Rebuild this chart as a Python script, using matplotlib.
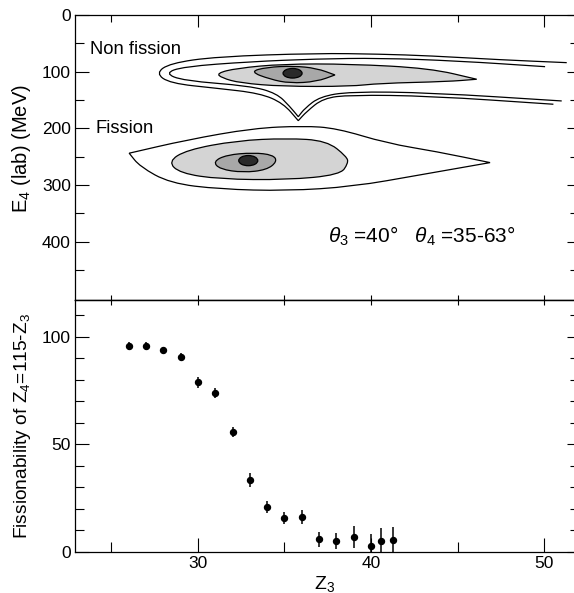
import numpy as np
import matplotlib
matplotlib.use("Agg")
import matplotlib.pyplot as plt
from matplotlib.path import Path
from matplotlib.patches import PathPatch, Ellipse
from matplotlib.ticker import MultipleLocator, FixedLocator

plt.rcParams["font.family"] = ["Liberation Sans", "DejaVu Sans"]
plt.rcParams["mathtext.fontset"] = "custom"
plt.rcParams["mathtext.rm"] = "Liberation Sans"
plt.rcParams["mathtext.it"] = "Liberation Sans:italic"

# ---- bottom panel: fissionability vs Z3 ----
z3 = [26, 27, 28, 29, 30, 31, 32, 33, 34, 35, 36, 37, 38, 39, 40, 40.6, 41.25]
fiss = [95.8, 95.8, 93.8, 90.9, 78.9, 73.8, 55.8, 33.5, 20.9, 15.7, 16.4,
        6.0, 5.0, 7.0, 2.8, 5.0, 5.4]
fiss_err = [1.7, 1.7, 1.3, 1.6, 2.5, 2.3, 2.4, 3.4, 2.9, 2.8, 3.3,
            3.5, 3.7, 5.2, 5.4, 6.2, 6.0]

# ---- top panel: contour outlines (Z3, E4) ----
# non fission, two open outer lines
nf_outer_z = [51.31, 47.46, 43.41, 40.52, 36.86, 31.08, 28.38, 27.57, 28.38,
              31.08, 33.58, 34.93, 35.80, 35.80, 36.28, 37.24, 38.79, 43.41, 50.54]
nf_outer_e = [84.1, 79.0, 72.0, 69.0, 67.5, 73.5, 85.2, 102.8, 120.5,
              129.3, 138.1, 155.7, 186.5, 186.5, 170.5, 146.9, 141.1, 142.9, 157.5]
nf_inner_z = [50.06, 45.0, 40.52, 36.86, 33.01, 29.15, 28.09, 29.15, 33.01,
              34.55, 35.32, 35.80, 35.80, 36.18, 37.05, 38.79, 43.41, 51.02]
nf_inner_e = [91.2, 81.0, 76.0, 77.5, 82.4, 91.2, 102.8, 115.9, 125.2,
              138.1, 161.7, 179.5, 179.5, 164.6, 144.1, 135.3, 137.0, 151.7]
# non fission, shaded levels
nf_light_z = [31.08, 32.24, 34.91, 38.79, 43.41, 46.11, 46.11, 44.38, 40.52,
              38.79, 34.91, 32.43, 31.39]
nf_light_e = [102.8, 94.0, 86.4, 86.4, 94.0, 113.4, 113.4, 117.6, 120.5,
              126.1, 126.1, 119.9, 111.1]
nf_mid_z = [33.01, 33.97, 35.51, 36.86, 37.92, 37.92, 36.86, 35.32, 34.17]
nf_mid_e = [100.0, 92.2, 89.9, 94.0, 105.8, 105.8, 117.6, 120.5, 113.4]
nf_core = (35.47, 102.8, 1.1, 17.0)

# fission
f_outer_z = [26.03, 26.03, 29.35, 33.20, 36.09, 38.02, 40.91, 43.80, 46.88,
             46.88, 42.83, 38.98, 35.13, 31.27, 28.38, 26.65]
f_outer_e = [243.9, 243.9, 220.5, 199.8, 195.8, 199.8, 226.3, 241.1, 260.5,
             260.5, 282.2, 302.8, 310.4, 307.4, 296.8, 267.5]
f_light_z = [28.28, 29.35, 32.24, 35.13, 37.44, 38.60, 38.69, 38.21, 35.13,
             31.27, 28.96]
f_light_e = [258.7, 238.1, 221.7, 217.5, 221.7, 249.9, 261.6, 282.2, 291.0,
             289.8, 279.2]
f_mid_z = [30.88, 31.66, 33.20, 34.35, 34.58, 33.97, 32.62, 31.27]
f_mid_e = [258.7, 246.9, 242.9, 246.9, 258.7, 273.4, 278.1, 272.1]
f_core = (32.91, 257.0, 1.1, 18.0)

e_ticks = [0, 100, 200, 300, 400]
e_minor = [50, 150, 250, 350, 450]


def smooth_path(zs, es, closed=True):
    # quadratic b-spline through midpoints, vertices act as control points
    pts = np.column_stack([zs, es])
    if closed:
        mids = (pts + np.roll(pts, -1, axis=0)) / 2
        verts = [mids[-1]]
        codes = [Path.MOVETO]
        for i in range(len(pts)):
            verts += [pts[i], mids[i]]
            codes += [Path.CURVE3, Path.CURVE3]
    else:
        mids = (pts[:-1] + pts[1:]) / 2
        verts = [pts[0], mids[0]]
        codes = [Path.MOVETO, Path.LINETO]
        for i in range(1, len(pts) - 1):
            verts += [pts[i], mids[i]]
            codes += [Path.CURVE3, Path.CURVE3]
        verts.append(pts[-1])
        codes.append(Path.LINETO)
    return Path(verts, codes)


W, H, DPI = 574, 593, 100
fig = plt.figure(figsize=(W / DPI, H / DPI), dpi=DPI)

x0 = 75 / W
ax1 = fig.add_axes([x0, (H - 300) / H, 1 - x0, 285 / H])
ax2 = fig.add_axes([x0, (H - 552) / H, 1 - x0, 252 / H])

XLIM = (22.9, 51.73)
LW = 0.9
TICK_FS = 12.5

# ---------- top panel ----------
ax1.set_xlim(*XLIM)
ax1.set_ylim(503, 0)

light = "#d4d4d4"
mid = "#a8a8a8"
dark = "#2a2a2a"

for zs, es in [(nf_outer_z, nf_outer_e), (nf_inner_z, nf_inner_e)]:
    ax1.add_patch(PathPatch(smooth_path(zs, es, closed=False), fc="none",
                            ec="black", lw=LW))

ax1.add_patch(PathPatch(smooth_path(f_outer_z, f_outer_e), fc="none", ec="black", lw=LW))
for zs, es, c in [(nf_light_z, nf_light_e, light), (nf_mid_z, nf_mid_e, mid),
                  (f_light_z, f_light_e, light), (f_mid_z, f_mid_e, mid)]:
    ax1.add_patch(PathPatch(smooth_path(zs, es), fc=c, ec="black", lw=LW))
for cz, ce, w, h in [nf_core, f_core]:
    ax1.add_patch(Ellipse((cz, ce), w, h, fc=dark, ec="black", lw=LW))

ax1.text(23.75, 61, "Non fission", fontsize=13.2, va="center", ha="left")
ax1.text(24.1, 201, "Fission", fontsize=13.2, va="center", ha="left")
ax1.text(37.5, 391, r"$\theta_3$ =40°   $\theta_4$ =35-63°", fontsize=15,
         va="center", ha="left")

ax1.yaxis.set_major_locator(FixedLocator(e_ticks))
ax1.yaxis.set_minor_locator(FixedLocator(e_minor))
ax1.set_ylabel(r"E$_4$ (lab) (MeV)", fontsize=14.5)
ax1.yaxis.set_label_coords(-0.085, 0.53)

# ---------- bottom panel ----------
ax2.set_xlim(*XLIM)
ax2.set_ylim(0, 117.2)
ax2.errorbar(z3, fiss, yerr=fiss_err, fmt="o", color="black", ms=4.3,
             elinewidth=1.1, capsize=0)
ax2.yaxis.set_major_locator(MultipleLocator(50))
ax2.yaxis.set_minor_locator(MultipleLocator(10))
ax2.set_ylabel(r"Fissionability of Z$_4$=115-Z$_3$", fontsize=13.8)
ax2.yaxis.set_label_coords(-0.085, 0.5)
ax2.set_xlabel(r"Z$_3$", fontsize=14)
ax2.xaxis.set_label_coords(0.5, -0.088)

for ax in (ax1, ax2):
    ax.xaxis.set_major_locator(MultipleLocator(10))
    ax.xaxis.set_minor_locator(MultipleLocator(5))
    ax.spines["right"].set_visible(False)
    for s in ("left", "top", "bottom"):
        ax.spines[s].set_linewidth(0.9)
    ax.tick_params(axis="y", which="both", direction="in", left=True, right=False,
                   labelsize=TICK_FS, width=0.8, pad=3)
    ax.tick_params(axis="y", which="major", length=10)
    ax.tick_params(axis="y", which="minor", length=6.5)
    # right side ticks, shorter
    sec = ax.secondary_yaxis("right")
    sec.yaxis.set_major_locator(ax.yaxis.get_major_locator())
    sec.yaxis.set_minor_locator(ax.yaxis.get_minor_locator())
    sec.spines["right"].set_visible(False)
    sec.tick_params(which="both", direction="in", labelright=False, width=0.8)
    sec.tick_params(which="major", length=5)
    sec.tick_params(which="minor", length=3)

ax1.tick_params(axis="x", which="both", direction="in", top=True, bottom=False,
                labelbottom=False, width=0.8)
ax1.tick_params(axis="x", which="major", length=8.5)
ax1.tick_params(axis="x", which="minor", length=5)

ax2.tick_params(axis="x", which="both", direction="in", top=False, bottom=True,
                labelsize=TICK_FS, width=0.8, pad=3)
ax2.tick_params(axis="x", which="major", length=10)
ax2.tick_params(axis="x", which="minor", length=7)
ax2.set_xticks([30, 40, 50])

# small crossing ticks along the divider
div = ax2.secondary_xaxis("top")
div.xaxis.set_major_locator(MultipleLocator(5))
div.tick_params(which="both", direction="inout", length=7, width=0.8, labeltop=False)
div.spines["top"].set_linewidth(0.9)

fig.savefig("out.png", dpi=DPI)
